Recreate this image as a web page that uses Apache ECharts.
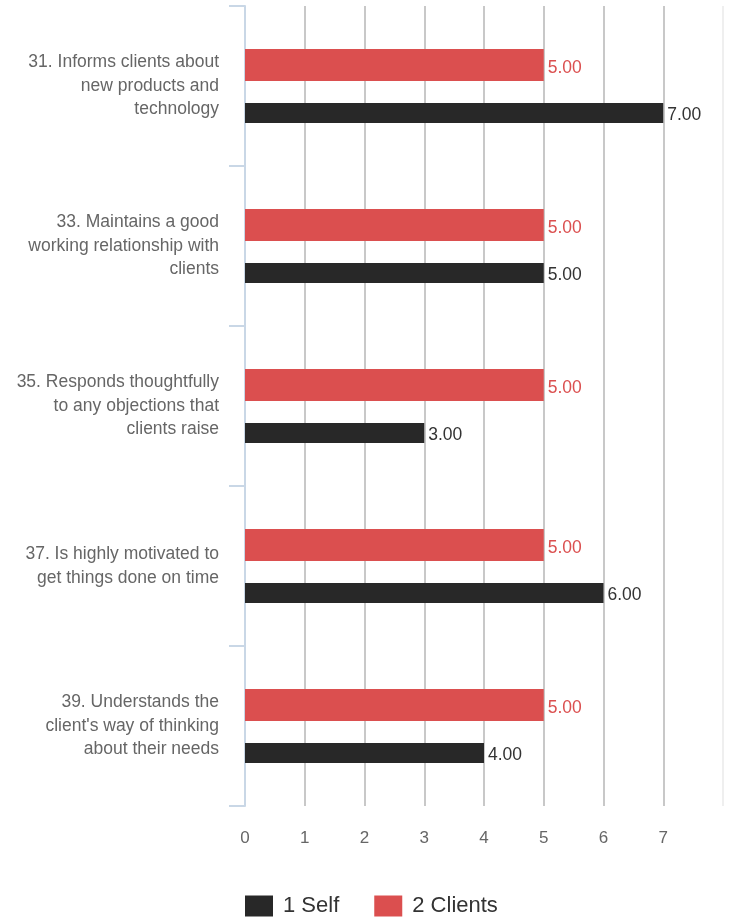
<!DOCTYPE html>
<html>
<head>
<meta charset="utf-8">
<script src="https://cdn.jsdelivr.net/npm/echarts@6/dist/echarts.min.js"></script>
<style>
  html, body { margin: 0; padding: 0; background: #ffffff; }
  #chart { width: 734px; height: 919px; }
</style>
</head>
<body>
<div id="chart"></div>
<script>
// Survey items (top to bottom)
const categories = [
  "31. Informs clients about\nnew products and\ntechnology",
  "33. Maintains a good\nworking relationship with\nclients",
  "35. Responds thoughtfully\nto any objections that\nclients raise",
  "37. Is highly motivated to\nget things done on time",
  "39. Understands the\nclient's way of thinking\nabout their needs"
];
const selfScores = [7, 5, 3, 6, 4];
const clientScores = [5, 5, 5, 5, 5];
const seriesNames = ["1 Self", "2 Clients"];
const xTicks = [0, 1, 2, 3, 4, 5, 6, 7, 8];

const FONT = "'Liberation Sans', Arial, Helvetica, sans-serif";
const RED = "#db4f4f";
const DARK = "#282828";

const chart = echarts.init(document.getElementById("chart"), null, { renderer: "canvas" });

chart.setOption({
  animation: false,
  backgroundColor: "#ffffff",
  textStyle: { fontFamily: FONT },
  grid: { left: 245, right: 11, top: 6, bottom: 113, containLabel: false },
  legend: {
    data: [seriesNames[0], seriesNames[1]],
    left: 245,
    top: 895,
    padding: 0,
    itemWidth: 28,
    itemHeight: 21,
    itemGap: 35,
    icon: "rect",
    textStyle: { fontFamily: FONT, fontSize: 22, color: "#333", padding: [0, 0, 0, 5] }
  },
  xAxis: {
    type: "value",
    min: xTicks[0],
    max: xTicks[xTicks.length - 1],
    interval: 1,
    axisLine: { show: false },
    axisTick: { show: false },
    axisLabel: {
      fontFamily: FONT,
      fontSize: 17,
      color: "#666",
      margin: 24,
      formatter: v => (v === xTicks[xTicks.length - 1] ? "" : String(v))
    },
    splitLine: {
      show: true,
      lineStyle: {
        width: 2,
        color: ["#c8c8c8", "#c8c8c8", "#c8c8c8", "#c8c8c8", "#c8c8c8", "#c8c8c8", "#c8c8c8", "#c8c8c8", "#efefef"]
      }
    }
  },
  yAxis: {
    type: "category",
    inverse: true,
    data: categories,
    axisLine: { show: true, lineStyle: { color: "#c9d7e6", width: 2 } },
    axisTick: { show: true, length: 16, lineStyle: { color: "#c9d7e6", width: 2 } },
    axisLabel: {
      fontFamily: FONT,
      fontSize: 17.5,
      lineHeight: 23.5,
      color: "#666",
      margin: 26,
      align: "right"
    }
  },
  series: [
    {
      name: seriesNames[1],
      type: "bar",
      data: clientScores,
      barWidth: 32,
      barGap: "68.75%",
      itemStyle: { color: RED },
      label: {
        show: true,
        position: "right",
        distance: 4,
        offset: [0, 3],
        fontFamily: FONT,
        fontSize: 17.5,
        color: RED,
        formatter: p => p.value.toFixed(2)
      }
    },
    {
      name: seriesNames[0],
      type: "bar",
      data: selfScores,
      barWidth: 20,
      itemStyle: { color: DARK },
      label: {
        show: true,
        position: "right",
        distance: 4,
        offset: [0, 2],
        fontFamily: FONT,
        fontSize: 17.5,
        color: "#333",
        formatter: p => p.value.toFixed(2)
      }
    }
  ]
});
</script>
</body>
</html>
